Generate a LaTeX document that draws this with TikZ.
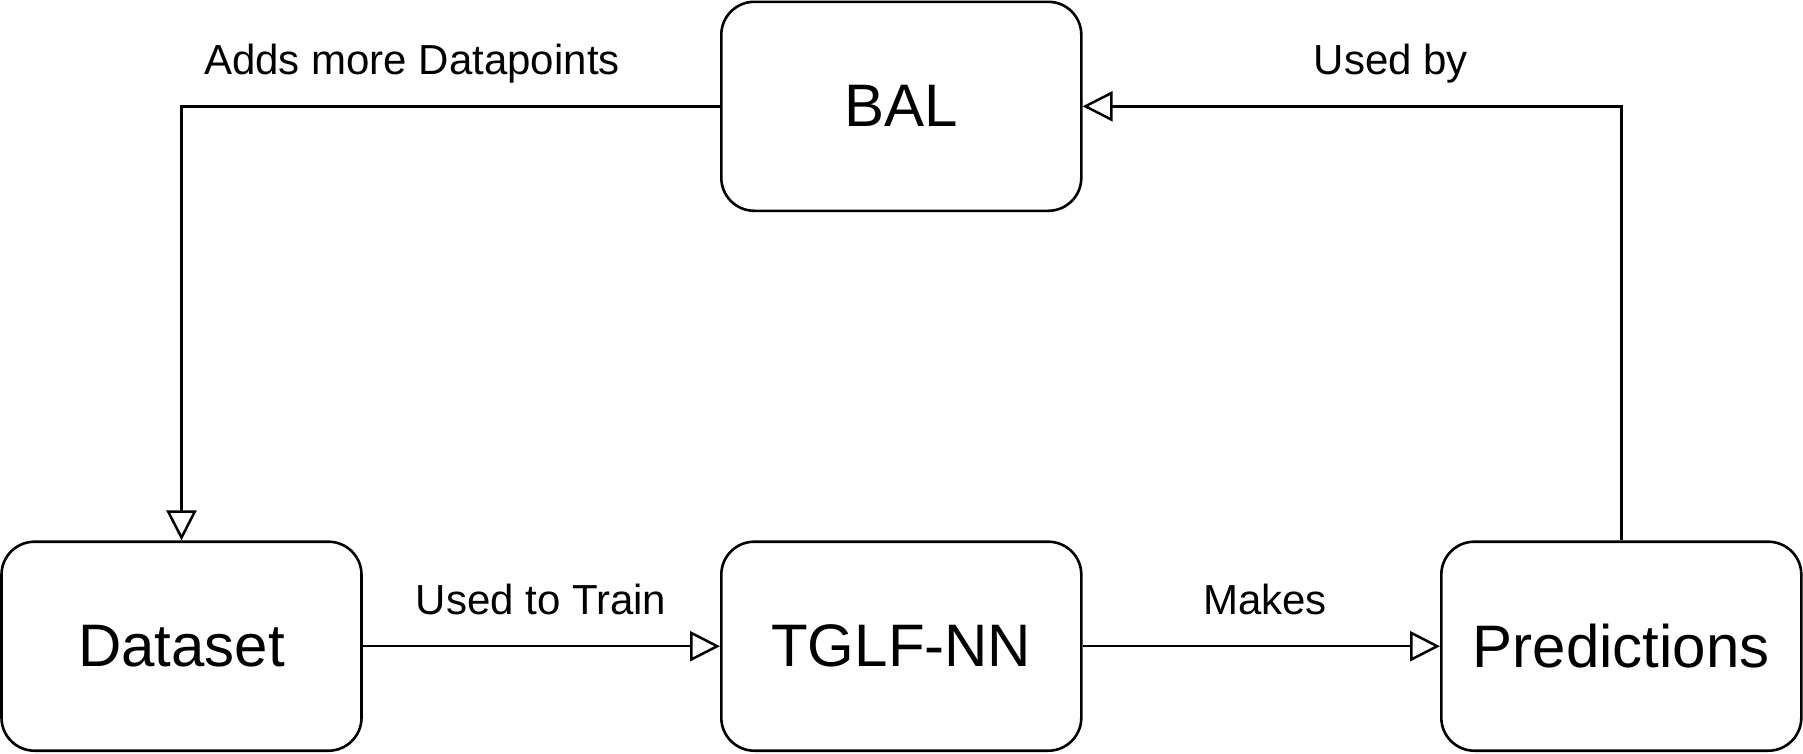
\documentclass[tikz,border=0pt]{standalone}
\usepackage{fontspec}
\setmainfont{Liberation Sans}
\usetikzlibrary{arrows.meta}
\begin{document}
\begin{tikzpicture}[x=1pt,y=-1pt,
  box/.style={draw=black, line width=2.6pt, rounded corners=33pt, fill=white,
    minimum width=360pt, minimum height=209pt, inner sep=0pt,
    font=\fontsize{60}{72}\selectfont},
  lbl/.style={anchor=base, inner sep=0pt, font=\fontsize{42}{50}\selectfont},
  conn/.style={draw=black, line width=2.5pt,
    -{Triangle[open, length=30pt, width=30pt, fill=white]}}
]
\useasboundingbox (0,0) rectangle (1803,753);
\node[box] (dataset) at (181.5,646.2) {Dataset};
\node[box] (tglf) at (901.3,646.2) {TGLF-NN};
\node[box] (pred) at (1621.3,646.2) {Predictions};
\node[box] (bal) at (901.3,106.3) {BAL};

\draw[conn] (bal.west) -| (dataset.north);
\draw[conn] (pred.north) |- (bal.east);
\draw[conn] (dataset.east) -- (tglf.west);
\draw[conn] (tglf.east) -- (pred.west);

\node[lbl] (l1) at (412,74) {Adds more Datapoints};
\node[lbl] (l2) at (1391,74) {Used by};
\node[lbl] (l3) at (541,614) {Used to Train};
\node[lbl] (l4) at (1265,614) {Makes};
\end{tikzpicture}
\end{document}
